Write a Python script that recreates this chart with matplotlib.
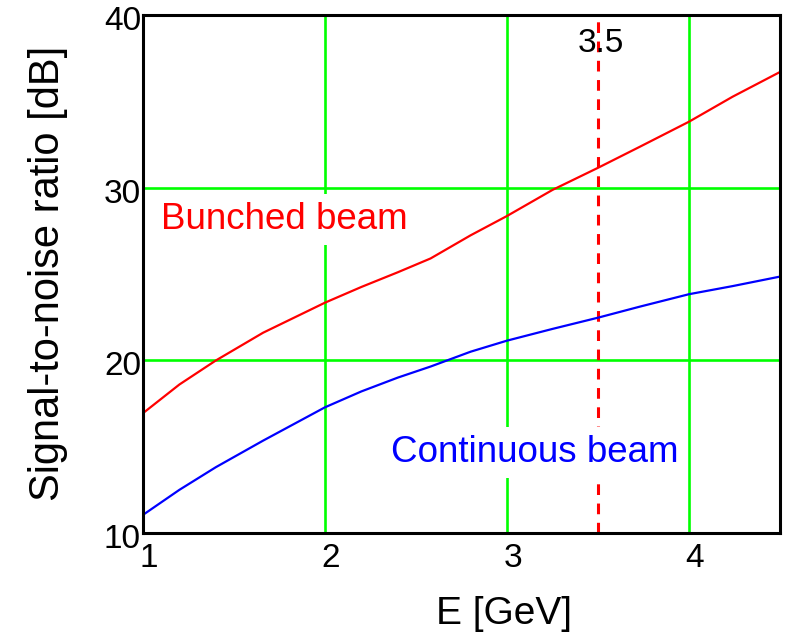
import matplotlib
matplotlib.use("Agg")
import matplotlib.pyplot as plt
import matplotlib.transforms as mtransforms

# values
energy = [1.0, 1.2, 1.4, 1.66, 2.0, 2.2, 2.4, 2.58, 2.8, 3.0, 3.25, 3.5, 3.73, 4.0, 4.24, 4.5]
snr_bunched = [16.94, 18.6, 19.99, 21.6, 23.34, 24.25, 25.1, 25.9, 27.24, 28.36,
               29.87, 31.15, 32.37, 33.82, 35.27, 36.7]
snr_continuous = [11.05, 12.5, 13.81, 15.35, 17.28, 18.2, 19.0, 19.64, 20.5, 21.14,
                  21.82, 22.47, 23.11, 23.83, 24.3, 24.85]
e_mark = 3.5
x_ticks = [1, 2, 3, 4]
y_ticks = [10, 20, 30, 40]

plt.rcParams['font.family'] = ['Liberation Sans', 'DejaVu Sans']

fig = plt.figure(figsize=(7.87, 6.33), dpi=100)
ax = fig.add_axes([143 / 787, 100 / 633, 637 / 787, 518 / 633])

ax.set_xlim(1, 4.5)
ax.set_ylim(10, 40)
ax.set_xticks(x_ticks)
ax.set_yticks(y_ticks)
ax.tick_params(length=0, labelsize=24)
ax.tick_params(axis='x', pad=7)
ax.tick_params(axis='y', pad=1.5)

# Mathcad puts the tick labels a little off the tick
xoff = mtransforms.ScaledTranslation(6 / 100, 0, fig.dpi_scale_trans)
for lab in ax.get_xticklabels():
    lab.set_transform(lab.get_transform() + xoff)
yoff = mtransforms.ScaledTranslation(0, -3 / 100, fig.dpi_scale_trans)
for lab in ax.get_yticklabels():
    lab.set_transform(lab.get_transform() + yoff)

ax.set_axisbelow(True)
ax.grid(True, color='#00ff00', linewidth=1.9)

for sp in ax.spines.values():
    sp.set_linewidth(2.2)
    sp.set_color('black')
    sp.set_zorder(6)

ax.axvline(e_mark, ymax=0.99, color='#ff0000', linewidth=2.2, dashes=(3.5, 2.8), zorder=1)
ax.text(e_mark + 0.016, 37.86, '3.5', fontsize=24, ha='center', va='baseline',
        color='black', zorder=4)

ax.plot(energy, snr_bunched, color='#ff0000', linewidth=1.6, zorder=5)
ax.plot(energy, snr_continuous, color='#0000ff', linewidth=1.6, zorder=5)

box = dict(boxstyle='square,pad=0.22', facecolor='white', edgecolor='none')
ax.text(1.775, 27.6, 'Bunched beam', color='#ff0000', fontsize=26.5,
        ha='center', va='baseline', bbox=box, zorder=3)
ax.text(3.154, 14.12, 'Continuous beam', color='#0000ff', fontsize=26.5,
        ha='center', va='baseline', bbox=box, zorder=3)

ax.set_xlabel('E [GeV]', fontsize=28)
ax.xaxis.set_label_coords(0.567, -0.122)
ax.set_ylabel('Signal-to-noise ratio [dB]', fontsize=30)
ax.yaxis.set_label_coords(-0.118, 0.502)

fig.savefig('out.png', dpi=100)
